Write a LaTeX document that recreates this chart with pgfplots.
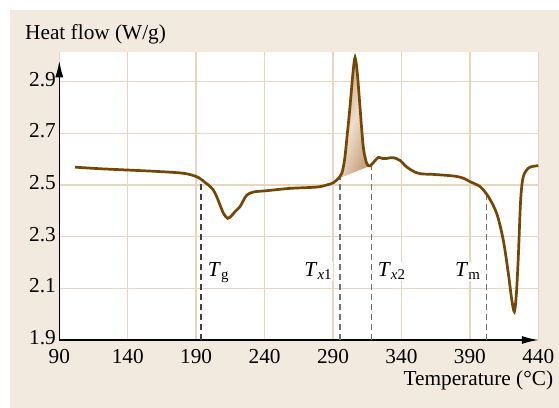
\documentclass[border=0pt]{standalone}
\usepackage{fontspec}
\setmainfont{Liberation Serif}
\usepackage{pgfplots}
\pgfplotsset{compat=1.18}
\usetikzlibrary{arrows.meta}
\definecolor{curve}{RGB}{118,70,6}
\definecolor{gridc}{RGB}{232,214,192}
\definecolor{panel}{RGB}{242,234,222}
\definecolor{tanD}{RGB}{196,156,116}
\definecolor{tanL}{RGB}{236,221,202}
\begin{document}
\begin{tikzpicture}[font=\fontsize{21.3bp}{25bp}\selectfont]
\fill[white] (-59.3bp,-68bp) rectangle (499.7bp,340bp);
\fill[panel] (-49.3bp,-68bp) rectangle (499.7bp,330bp);
\begin{axis}[
  at={(0bp,0bp)}, anchor=south west,
  scale only axis, width=479bp, height=287.7bp,
  xmin=90, xmax=440, ymin=1.9, ymax=3.0138,
  xtick={90,140,...,440},
  ytick={1.9,2.1,2.3,2.5,2.7,2.9},
  yticklabels={1.9,2.1,2.3,2.5,2.7,2.9},
  xticklabels={90,140,190,240,290,340,390,440},
  axis x line=bottom, axis y line=left,
  x axis line style={line width=1.3bp, -{Latex[length=16.5bp,width=8bp]}},
  y axis line style={line width=1.3bp, shorten >=8.5bp, -{Latex[length=16.5bp,width=8bp]}},
  major tick length=0pt,
  grid=major, grid style={line width=1.5bp, color=gridc},
  axis background/.style={fill=white},
  tick label style={font=\fontsize{21.3bp}{25bp}\selectfont},
  xticklabel style={yshift=-5.5bp, text depth=0pt},
  yticklabel style={text depth=0pt, text height=0.68em, yshift=-1bp},
  /pgf/number format/assume math mode=true,
  clip=false,
]
\addplot[draw=none, left color=tanD, right color=tanD, middle color=tanL, shading angle=70, smooth] coordinates {
(295,2.527) (296.4,2.545) (298.5,2.60) (300,2.674) (302.4,2.803) (304.5,2.93) (306.1,2.994)
(307.8,2.93) (309.7,2.803) (312.1,2.648) (314.6,2.584) (317,2.574)} -- cycle;
\addplot[black!75, dash pattern=on 6bp off 4bp, line width=1.4bp] coordinates {(193.5,1.9) (193.5,2.524)};
\addplot[black!55, dash pattern=on 6bp off 4bp, line width=1.4bp] coordinates {(295.1,1.9) (295.1,2.527)};
\addplot[black!55, dash pattern=on 6bp off 4bp, line width=1.4bp] coordinates {(318.3,1.9) (318.3,2.578)};
\addplot[black!55, dash pattern=on 6bp off 4bp, line width=1.4bp] coordinates {(402.3,1.9) (402.3,2.46)};
\addplot[curve, line width=2.7bp, smooth] coordinates {
(101.5,2.569) (120,2.563) (140,2.558) (160,2.553) (178,2.547) (186,2.540) (192,2.528)
(196,2.512) (199,2.500) (202.5,2.481) (205,2.455) (207.4,2.423) (210,2.390) (213,2.371)
(216,2.382) (218.4,2.397) (222,2.416) (224.5,2.440) (227,2.461) (231.8,2.473) (241.5,2.478)
(258.6,2.487) (278,2.492) (285.4,2.500) (290,2.508) (292.7,2.519) (296.4,2.545) (298.5,2.60)
(300,2.674) (302.4,2.803) (304.5,2.93) (306.1,2.994) (307.8,2.93) (309.7,2.803) (312.1,2.648)
(314.6,2.584) (317,2.574) (320,2.590) (323.1,2.607) (326,2.603) (329.2,2.603) (334,2.606)
(339,2.595) (343.8,2.570) (349.9,2.550) (355,2.543) (363.3,2.541) (377.9,2.535) (385,2.527)
(390.1,2.513) (397.4,2.494) (403.5,2.455) (409.6,2.390) (414.4,2.287) (418.1,2.158) (420.5,2.06)
(422.5,2.010) (424,2.08) (425.4,2.222) (427.1,2.442) (429,2.532) (432.7,2.565) (436,2.572) (440,2.575)};
\node[anchor=base west, fill=white, inner sep=1bp] at (axis cs:197.7,2.145) {\textit{T}\textsubscript{g}};
\node[anchor=base east, fill=white, inner sep=1bp] at (axis cs:290.2,2.145) {\textit{T}\textsubscript{\textit{x}1}};
\node[anchor=base west, fill=white, inner sep=1bp] at (axis cs:321.9,2.145) {\textit{T}\textsubscript{\textit{x}2}};
\node[anchor=base east, fill=white, inner sep=1bp] at (axis cs:398.6,2.145) {\textit{T}\textsubscript{m}};
\end{axis}
\node[anchor=base west, inner sep=0pt] at (-34.3bp,300bp) {Heat flow (W/g)};
\node[anchor=base east, inner sep=0pt] at (494bp,-45bp) {Temperature (°C)};
\pgfresetboundingbox
\path[use as bounding box] (-59.3bp,-68bp) rectangle (499.7bp,340bp);
\end{tikzpicture}
\end{document}
